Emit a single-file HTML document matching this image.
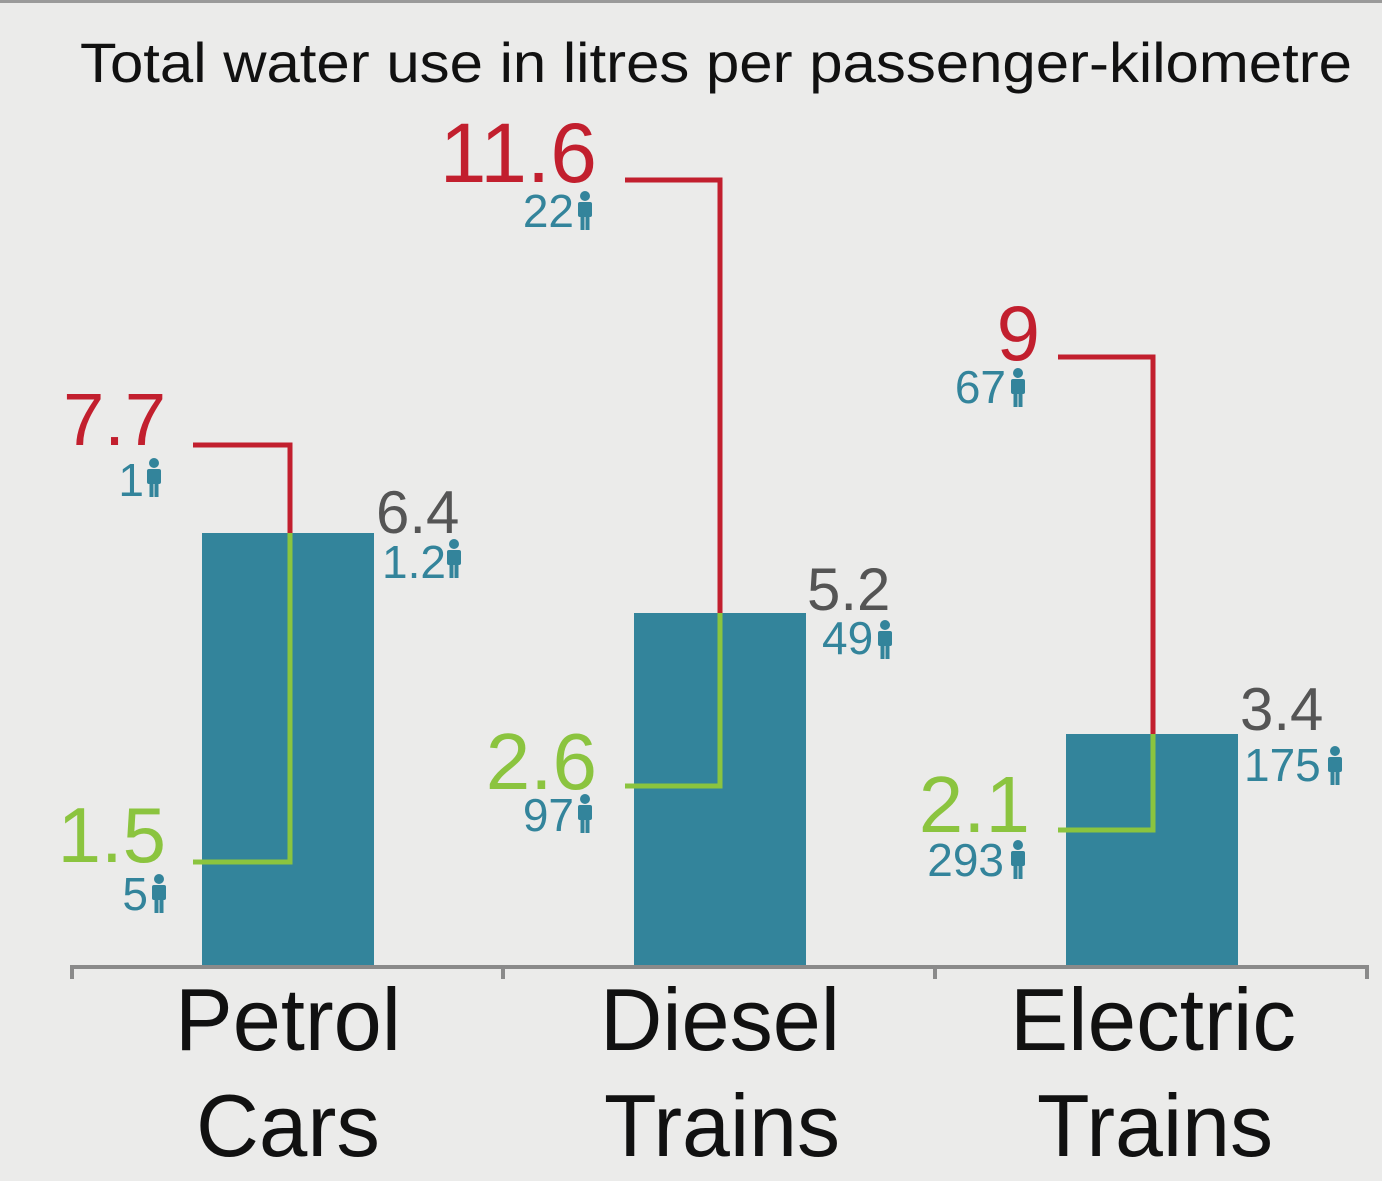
<!DOCTYPE html>
<html><head><style>
html,body{margin:0;padding:0;background:#ebebea;}
svg{display:block;}
text{font-family:"Liberation Sans",sans-serif;}
</style></head><body>
<svg width="1382" height="1181" viewBox="0 0 1382 1181" xmlns="http://www.w3.org/2000/svg">
<defs>
<g id="p" fill="#33849b">
<circle cx="8" cy="5" r="5"/>
<rect x="1" y="11" width="14" height="15" rx="2"/>
<rect x="3.5" y="22" width="4" height="17"/>
<rect x="8.5" y="22" width="4" height="17"/>
</g>
</defs>
<rect width="1382" height="1181" fill="#ebebea"/>
<rect width="1382" height="3" fill="#9a9a9a"/>
<text x="80" y="82" font-size="56" fill="#111" textLength="1272" lengthAdjust="spacingAndGlyphs">Total water use in litres per passenger-kilometre</text>

<rect x="202" y="533" width="172" height="433" fill="#33849b"/>
<rect x="634" y="613" width="172" height="353" fill="#33849b"/>
<rect x="1066" y="734" width="172" height="232" fill="#33849b"/>

<path d="M72 979V967H1367V979M503 967V979M935 967V979" stroke="#8a8a8a" stroke-width="4" fill="none"/>

<g fill="none" stroke-width="5">
<path d="M193 445H290V533" stroke="#c21f2e"/>
<path d="M290 533V862H193" stroke="#8bc43f"/>
<path d="M625 180H720V613" stroke="#c21f2e"/>
<path d="M720 613V786H625" stroke="#8bc43f"/>
<path d="M1058 357H1153V734" stroke="#c21f2e"/>
<path d="M1153 734V830H1058" stroke="#8bc43f"/>
</g>

<text x="166" y="445" font-size="74" fill="#c21f2e" text-anchor="end">7.7</text>
<text x="144" y="496" font-size="46" fill="#33849b" text-anchor="end">1</text>
<use href="#p" x="146" y="458"/>
<text x="166" y="862" font-size="78" fill="#8bc43f" text-anchor="end">1.5</text>
<text x="148" y="910" font-size="46" fill="#33849b" text-anchor="end">5</text>
<use href="#p" x="151" y="874"/>
<text x="376" y="533" font-size="60" fill="#555" >6.4</text>
<text x="382" y="578" font-size="46" fill="#33849b">1.2</text>
<use href="#p" x="446" y="539"/>

<text x="597" y="182" font-size="84" fill="#c21f2e" text-anchor="end">11.6</text>
<text x="574" y="227" font-size="46" fill="#33849b" text-anchor="end">22</text>
<use href="#p" x="577" y="191"/>
<text x="597" y="789" font-size="80" fill="#8bc43f" text-anchor="end">2.6</text>
<text x="574" y="831" font-size="46" fill="#33849b" text-anchor="end">97</text>
<use href="#p" x="577" y="794"/>
<text x="807" y="610" font-size="60" fill="#555">5.2</text>
<text x="822" y="654" font-size="46" fill="#33849b">49</text>
<use href="#p" x="877" y="620"/>

<text x="1040" y="360" font-size="78" fill="#c21f2e" text-anchor="end">9</text>
<text x="1006" y="403" font-size="46" fill="#33849b" text-anchor="end">67</text>
<use href="#p" x="1010" y="368"/>
<text x="1030" y="832" font-size="80" fill="#8bc43f" text-anchor="end">2.1</text>
<text x="1004" y="876" font-size="46" fill="#33849b" text-anchor="end">293</text>
<use href="#p" x="1010" y="840"/>
<text x="1240" y="730" font-size="60" fill="#555">3.4</text>
<text x="1244" y="781" font-size="46" fill="#33849b">175</text>
<use href="#p" x="1327" y="746"/>

<g font-size="88" fill="#111" text-anchor="middle">
<text x="288" y="1050" textLength="226" lengthAdjust="spacingAndGlyphs">Petrol</text>
<text x="288" y="1156" textLength="184" lengthAdjust="spacingAndGlyphs">Cars</text>
<text x="720" y="1050" textLength="240" lengthAdjust="spacingAndGlyphs">Diesel</text>
<text x="722" y="1156" textLength="236" lengthAdjust="spacingAndGlyphs">Trains</text>
<text x="1153" y="1050" textLength="286" lengthAdjust="spacingAndGlyphs">Electric</text>
<text x="1155" y="1156" textLength="236" lengthAdjust="spacingAndGlyphs">Trains</text>
</g>
</svg>
</body></html>
